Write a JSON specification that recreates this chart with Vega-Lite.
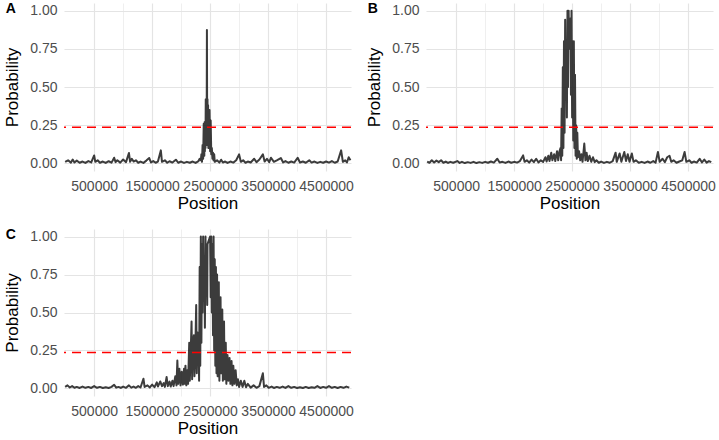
{
  "$schema": "https://vega.github.io/schema/vega-lite/v6.json",
  "background": "white",
  "padding": {"left": 3, "top": 2, "right": 2, "bottom": 0},
  "columns": 2,
  "spacing": {"row": 17, "column": 11},
  "config": {
    "font": "Liberation Sans",
    "view": {"stroke": null},
    "axis": {
      "domain": false,
      "ticks": false,
      "labelFont": "Liberation Sans",
      "titleFont": "Liberation Sans",
      "labelFontSize": 14,
      "labelColor": "#4d4d4d",
      "titleFontSize": 17,
      "titleFontWeight": "normal",
      "titleColor": "#000000",
      "gridColor": "#e4e4e4",
      "labelOverlap": false,
      "labelFlush": false
    },
    "axisX": {"labelPadding": 8, "titlePadding": 2},
    "axisY": {"labelPadding": 7, "titlePadding": 8},
    "title": {"fontSize": 14, "fontWeight": "bold", "color": "#000000", "anchor": "start", "frame": "bounds", "baseline": "alphabetic", "offset": -13, "dx": 2, "font": "Liberation Sans"}
  },
  "datasets": {
    "A": [
      {"position": 0, "probability": 0.01},
      {"position": 50000, "probability": 0.02},
      {"position": 100000, "probability": 0.005},
      {"position": 130000, "probability": 0.025},
      {"position": 160000, "probability": 0.006},
      {"position": 200000, "probability": 0.018},
      {"position": 250000, "probability": 0.004},
      {"position": 300000, "probability": 0.012},
      {"position": 350000, "probability": 0.003},
      {"position": 400000, "probability": 0.015},
      {"position": 450000, "probability": 0.006},
      {"position": 500000, "probability": 0.052},
      {"position": 520000, "probability": 0.01},
      {"position": 560000, "probability": 0.02},
      {"position": 600000, "probability": 0.004},
      {"position": 650000, "probability": 0.012},
      {"position": 700000, "probability": 0.003},
      {"position": 750000, "probability": 0.014},
      {"position": 800000, "probability": 0.005},
      {"position": 845000, "probability": 0.037},
      {"position": 870000, "probability": 0.008},
      {"position": 900000, "probability": 0.02},
      {"position": 950000, "probability": 0.005},
      {"position": 1000000, "probability": 0.025},
      {"position": 1050000, "probability": 0.008},
      {"position": 1100000, "probability": 0.068},
      {"position": 1120000, "probability": 0.01},
      {"position": 1150000, "probability": 0.03},
      {"position": 1180000, "probability": 0.012},
      {"position": 1220000, "probability": 0.02},
      {"position": 1260000, "probability": 0.004},
      {"position": 1300000, "probability": 0.012},
      {"position": 1350000, "probability": 0.003},
      {"position": 1400000, "probability": 0.018},
      {"position": 1450000, "probability": 0.035},
      {"position": 1480000, "probability": 0.006},
      {"position": 1520000, "probability": 0.015},
      {"position": 1560000, "probability": 0.004},
      {"position": 1600000, "probability": 0.012},
      {"position": 1650000, "probability": 0.085},
      {"position": 1670000, "probability": 0.01},
      {"position": 1720000, "probability": 0.02},
      {"position": 1760000, "probability": 0.004},
      {"position": 1800000, "probability": 0.014},
      {"position": 1850000, "probability": 0.005},
      {"position": 1910000, "probability": 0.024},
      {"position": 1950000, "probability": 0.004},
      {"position": 2000000, "probability": 0.012},
      {"position": 2050000, "probability": 0.003},
      {"position": 2100000, "probability": 0.01},
      {"position": 2150000, "probability": 0.004},
      {"position": 2200000, "probability": 0.012},
      {"position": 2250000, "probability": 0.003},
      {"position": 2300000, "probability": 0.015},
      {"position": 2320000, "probability": 0.03},
      {"position": 2340000, "probability": 0.02},
      {"position": 2350000, "probability": 0.06},
      {"position": 2360000, "probability": 0.01},
      {"position": 2370000, "probability": 0.12},
      {"position": 2380000, "probability": 0.03},
      {"position": 2390000, "probability": 0.26},
      {"position": 2400000, "probability": 0.05},
      {"position": 2405000, "probability": 0.27},
      {"position": 2410000, "probability": 0.08},
      {"position": 2415000, "probability": 0.2},
      {"position": 2420000, "probability": 0.1},
      {"position": 2425000, "probability": 0.42},
      {"position": 2430000, "probability": 0.15},
      {"position": 2435000, "probability": 0.4},
      {"position": 2440000, "probability": 0.12},
      {"position": 2445000, "probability": 0.874},
      {"position": 2450000, "probability": 0.14},
      {"position": 2455000, "probability": 0.42},
      {"position": 2460000, "probability": 0.16},
      {"position": 2465000, "probability": 0.38},
      {"position": 2470000, "probability": 0.1},
      {"position": 2475000, "probability": 0.35},
      {"position": 2480000, "probability": 0.12},
      {"position": 2490000, "probability": 0.35},
      {"position": 2500000, "probability": 0.08},
      {"position": 2510000, "probability": 0.28},
      {"position": 2520000, "probability": 0.06},
      {"position": 2530000, "probability": 0.1},
      {"position": 2540000, "probability": 0.03},
      {"position": 2550000, "probability": 0.07},
      {"position": 2560000, "probability": 0.02},
      {"position": 2570000, "probability": 0.06},
      {"position": 2580000, "probability": 0.01},
      {"position": 2620000, "probability": 0.02},
      {"position": 2660000, "probability": 0.005},
      {"position": 2690000, "probability": 0.024},
      {"position": 2720000, "probability": 0.006},
      {"position": 2760000, "probability": 0.012},
      {"position": 2800000, "probability": 0.003},
      {"position": 2850000, "probability": 0.012},
      {"position": 2900000, "probability": 0.005},
      {"position": 2950000, "probability": 0.02},
      {"position": 3000000, "probability": 0.059},
      {"position": 3030000, "probability": 0.01},
      {"position": 3070000, "probability": 0.02},
      {"position": 3110000, "probability": 0.004},
      {"position": 3150000, "probability": 0.012},
      {"position": 3200000, "probability": 0.006},
      {"position": 3260000, "probability": 0.03},
      {"position": 3300000, "probability": 0.008},
      {"position": 3350000, "probability": 0.025},
      {"position": 3410000, "probability": 0.059},
      {"position": 3440000, "probability": 0.012},
      {"position": 3480000, "probability": 0.03},
      {"position": 3520000, "probability": 0.008},
      {"position": 3550000, "probability": 0.037},
      {"position": 3600000, "probability": 0.01},
      {"position": 3650000, "probability": 0.02},
      {"position": 3720000, "probability": 0.035},
      {"position": 3760000, "probability": 0.006},
      {"position": 3800000, "probability": 0.015},
      {"position": 3850000, "probability": 0.004},
      {"position": 3900000, "probability": 0.012},
      {"position": 3950000, "probability": 0.005},
      {"position": 4010000, "probability": 0.037},
      {"position": 4050000, "probability": 0.006},
      {"position": 4100000, "probability": 0.012},
      {"position": 4150000, "probability": 0.004},
      {"position": 4210000, "probability": 0.02},
      {"position": 4250000, "probability": 0.005},
      {"position": 4300000, "probability": 0.012},
      {"position": 4350000, "probability": 0.003},
      {"position": 4400000, "probability": 0.01},
      {"position": 4450000, "probability": 0.004},
      {"position": 4500000, "probability": 0.012},
      {"position": 4550000, "probability": 0.005},
      {"position": 4600000, "probability": 0.015},
      {"position": 4650000, "probability": 0.004},
      {"position": 4700000, "probability": 0.012},
      {"position": 4760000, "probability": 0.085},
      {"position": 4790000, "probability": 0.01},
      {"position": 4830000, "probability": 0.02},
      {"position": 4860000, "probability": 0.006},
      {"position": 4890000, "probability": 0.04},
      {"position": 4920000, "probability": 0.02}
    ],
    "B": [
      {"position": 0, "probability": 0.012},
      {"position": 40000, "probability": 0.004},
      {"position": 80000, "probability": 0.02},
      {"position": 120000, "probability": 0.006},
      {"position": 160000, "probability": 0.018},
      {"position": 200000, "probability": 0.008},
      {"position": 240000, "probability": 0.02},
      {"position": 280000, "probability": 0.004},
      {"position": 320000, "probability": 0.012},
      {"position": 360000, "probability": 0.003},
      {"position": 400000, "probability": 0.01},
      {"position": 450000, "probability": 0.004},
      {"position": 520000, "probability": 0.015},
      {"position": 560000, "probability": 0.003},
      {"position": 600000, "probability": 0.01},
      {"position": 650000, "probability": 0.002},
      {"position": 700000, "probability": 0.008},
      {"position": 750000, "probability": 0.003},
      {"position": 800000, "probability": 0.01},
      {"position": 850000, "probability": 0.002},
      {"position": 900000, "probability": 0.008},
      {"position": 950000, "probability": 0.003},
      {"position": 1000000, "probability": 0.01},
      {"position": 1050000, "probability": 0.004},
      {"position": 1100000, "probability": 0.012},
      {"position": 1150000, "probability": 0.005},
      {"position": 1210000, "probability": 0.03},
      {"position": 1250000, "probability": 0.006},
      {"position": 1300000, "probability": 0.01},
      {"position": 1350000, "probability": 0.003},
      {"position": 1400000, "probability": 0.012},
      {"position": 1450000, "probability": 0.004},
      {"position": 1500000, "probability": 0.01},
      {"position": 1550000, "probability": 0.005},
      {"position": 1600000, "probability": 0.015},
      {"position": 1655000, "probability": 0.052},
      {"position": 1680000, "probability": 0.01},
      {"position": 1720000, "probability": 0.02},
      {"position": 1760000, "probability": 0.005},
      {"position": 1800000, "probability": 0.025},
      {"position": 1840000, "probability": 0.008},
      {"position": 1880000, "probability": 0.03},
      {"position": 1920000, "probability": 0.006},
      {"position": 1960000, "probability": 0.02},
      {"position": 2000000, "probability": 0.01},
      {"position": 2040000, "probability": 0.04},
      {"position": 2060000, "probability": 0.012},
      {"position": 2090000, "probability": 0.05},
      {"position": 2110000, "probability": 0.015},
      {"position": 2140000, "probability": 0.07},
      {"position": 2160000, "probability": 0.02},
      {"position": 2190000, "probability": 0.06},
      {"position": 2210000, "probability": 0.015},
      {"position": 2240000, "probability": 0.08},
      {"position": 2260000, "probability": 0.02},
      {"position": 2280000, "probability": 0.075},
      {"position": 2300000, "probability": 0.1},
      {"position": 2310000, "probability": 0.02},
      {"position": 2320000, "probability": 0.36},
      {"position": 2330000, "probability": 0.05},
      {"position": 2340000, "probability": 0.63},
      {"position": 2350000, "probability": 0.1},
      {"position": 2360000, "probability": 0.8},
      {"position": 2370000, "probability": 0.2},
      {"position": 2380000, "probability": 0.94},
      {"position": 2390000, "probability": 0.45},
      {"position": 2400000, "probability": 0.8},
      {"position": 2410000, "probability": 0.3},
      {"position": 2420000, "probability": 1.0},
      {"position": 2430000, "probability": 0.5},
      {"position": 2440000, "probability": 1.0},
      {"position": 2450000, "probability": 0.75},
      {"position": 2475000, "probability": 0.95},
      {"position": 2480000, "probability": 0.45},
      {"position": 2490000, "probability": 1.0},
      {"position": 2500000, "probability": 0.3},
      {"position": 2510000, "probability": 0.8},
      {"position": 2520000, "probability": 0.15},
      {"position": 2530000, "probability": 0.8},
      {"position": 2540000, "probability": 0.1},
      {"position": 2550000, "probability": 0.58},
      {"position": 2560000, "probability": 0.05},
      {"position": 2570000, "probability": 0.25},
      {"position": 2580000, "probability": 0.03},
      {"position": 2590000, "probability": 0.2},
      {"position": 2600000, "probability": 0.04},
      {"position": 2620000, "probability": 0.08},
      {"position": 2640000, "probability": 0.02},
      {"position": 2660000, "probability": 0.06},
      {"position": 2680000, "probability": 0.01},
      {"position": 2710000, "probability": 0.13},
      {"position": 2730000, "probability": 0.02},
      {"position": 2750000, "probability": 0.07},
      {"position": 2770000, "probability": 0.015},
      {"position": 2800000, "probability": 0.05},
      {"position": 2830000, "probability": 0.01},
      {"position": 2860000, "probability": 0.04},
      {"position": 2890000, "probability": 0.008},
      {"position": 2920000, "probability": 0.02},
      {"position": 2960000, "probability": 0.004},
      {"position": 3000000, "probability": 0.012},
      {"position": 3050000, "probability": 0.003},
      {"position": 3100000, "probability": 0.01},
      {"position": 3150000, "probability": 0.004},
      {"position": 3200000, "probability": 0.015},
      {"position": 3250000, "probability": 0.07},
      {"position": 3270000, "probability": 0.01},
      {"position": 3320000, "probability": 0.065},
      {"position": 3350000, "probability": 0.01},
      {"position": 3400000, "probability": 0.075},
      {"position": 3430000, "probability": 0.015},
      {"position": 3460000, "probability": 0.06},
      {"position": 3490000, "probability": 0.01},
      {"position": 3530000, "probability": 0.065},
      {"position": 3560000, "probability": 0.01},
      {"position": 3600000, "probability": 0.02},
      {"position": 3650000, "probability": 0.004},
      {"position": 3700000, "probability": 0.01},
      {"position": 3750000, "probability": 0.003},
      {"position": 3800000, "probability": 0.012},
      {"position": 3850000, "probability": 0.004},
      {"position": 3900000, "probability": 0.015},
      {"position": 3940000, "probability": 0.005},
      {"position": 3980000, "probability": 0.075},
      {"position": 4010000, "probability": 0.01},
      {"position": 4060000, "probability": 0.03},
      {"position": 4100000, "probability": 0.008},
      {"position": 4140000, "probability": 0.04},
      {"position": 4180000, "probability": 0.05},
      {"position": 4210000, "probability": 0.01},
      {"position": 4250000, "probability": 0.02},
      {"position": 4300000, "probability": 0.004},
      {"position": 4350000, "probability": 0.012},
      {"position": 4400000, "probability": 0.02},
      {"position": 4440000, "probability": 0.075},
      {"position": 4470000, "probability": 0.01},
      {"position": 4520000, "probability": 0.02},
      {"position": 4560000, "probability": 0.004},
      {"position": 4600000, "probability": 0.012},
      {"position": 4650000, "probability": 0.005},
      {"position": 4700000, "probability": 0.03},
      {"position": 4740000, "probability": 0.006},
      {"position": 4780000, "probability": 0.025},
      {"position": 4820000, "probability": 0.005},
      {"position": 4860000, "probability": 0.015},
      {"position": 4900000, "probability": 0.008}
    ],
    "C": [
      {"position": 0, "probability": 0.01},
      {"position": 40000, "probability": 0.02},
      {"position": 80000, "probability": 0.006},
      {"position": 120000, "probability": 0.015},
      {"position": 160000, "probability": 0.004},
      {"position": 200000, "probability": 0.01},
      {"position": 250000, "probability": 0.003},
      {"position": 300000, "probability": 0.012},
      {"position": 350000, "probability": 0.004},
      {"position": 400000, "probability": 0.01},
      {"position": 450000, "probability": 0.003},
      {"position": 500000, "probability": 0.015},
      {"position": 550000, "probability": 0.004},
      {"position": 600000, "probability": 0.01},
      {"position": 650000, "probability": 0.003},
      {"position": 700000, "probability": 0.008},
      {"position": 750000, "probability": 0.003},
      {"position": 800000, "probability": 0.01},
      {"position": 845000, "probability": 0.024},
      {"position": 880000, "probability": 0.005},
      {"position": 920000, "probability": 0.01},
      {"position": 960000, "probability": 0.003},
      {"position": 1000000, "probability": 0.012},
      {"position": 1050000, "probability": 0.004},
      {"position": 1100000, "probability": 0.02},
      {"position": 1140000, "probability": 0.005},
      {"position": 1180000, "probability": 0.012},
      {"position": 1220000, "probability": 0.004},
      {"position": 1260000, "probability": 0.015},
      {"position": 1300000, "probability": 0.006},
      {"position": 1350000, "probability": 0.064},
      {"position": 1370000, "probability": 0.01},
      {"position": 1420000, "probability": 0.02},
      {"position": 1460000, "probability": 0.006},
      {"position": 1500000, "probability": 0.025},
      {"position": 1540000, "probability": 0.008},
      {"position": 1580000, "probability": 0.04},
      {"position": 1600000, "probability": 0.012},
      {"position": 1640000, "probability": 0.046},
      {"position": 1670000, "probability": 0.015},
      {"position": 1700000, "probability": 0.035},
      {"position": 1720000, "probability": 0.01},
      {"position": 1750000, "probability": 0.075},
      {"position": 1770000, "probability": 0.015},
      {"position": 1800000, "probability": 0.045},
      {"position": 1820000, "probability": 0.012},
      {"position": 1850000, "probability": 0.05},
      {"position": 1870000, "probability": 0.015},
      {"position": 1900000, "probability": 0.08},
      {"position": 1920000, "probability": 0.02},
      {"position": 1935000, "probability": 0.184},
      {"position": 1950000, "probability": 0.03},
      {"position": 1970000, "probability": 0.13},
      {"position": 1990000, "probability": 0.02},
      {"position": 2010000, "probability": 0.11},
      {"position": 2030000, "probability": 0.025},
      {"position": 2050000, "probability": 0.13},
      {"position": 2060000, "probability": 0.03},
      {"position": 2075000, "probability": 0.15},
      {"position": 2090000, "probability": 0.02},
      {"position": 2105000, "probability": 0.12},
      {"position": 2120000, "probability": 0.03},
      {"position": 2140000, "probability": 0.3},
      {"position": 2150000, "probability": 0.05},
      {"position": 2165000, "probability": 0.23},
      {"position": 2180000, "probability": 0.44},
      {"position": 2190000, "probability": 0.06},
      {"position": 2205000, "probability": 0.3},
      {"position": 2220000, "probability": 0.35},
      {"position": 2230000, "probability": 0.08},
      {"position": 2245000, "probability": 0.25},
      {"position": 2260000, "probability": 0.55},
      {"position": 2270000, "probability": 0.1},
      {"position": 2280000, "probability": 0.37},
      {"position": 2290000, "probability": 0.2},
      {"position": 2300000, "probability": 0.33},
      {"position": 2310000, "probability": 0.05},
      {"position": 2320000, "probability": 0.8},
      {"position": 2330000, "probability": 0.15},
      {"position": 2340000, "probability": 1.0},
      {"position": 2350000, "probability": 0.3},
      {"position": 2360000, "probability": 0.95},
      {"position": 2370000, "probability": 0.5},
      {"position": 2380000, "probability": 1.0},
      {"position": 2390000, "probability": 0.6},
      {"position": 2400000, "probability": 0.85},
      {"position": 2410000, "probability": 0.4},
      {"position": 2420000, "probability": 1.0},
      {"position": 2430000, "probability": 0.7},
      {"position": 2440000, "probability": 0.85},
      {"position": 2450000, "probability": 0.55},
      {"position": 2455000, "probability": 0.95},
      {"position": 2500000, "probability": 1.0},
      {"position": 2510000, "probability": 0.6},
      {"position": 2520000, "probability": 1.0},
      {"position": 2530000, "probability": 0.5},
      {"position": 2540000, "probability": 0.95},
      {"position": 2550000, "probability": 0.35},
      {"position": 2560000, "probability": 1.0},
      {"position": 2570000, "probability": 0.25},
      {"position": 2580000, "probability": 0.85},
      {"position": 2590000, "probability": 0.15},
      {"position": 2600000, "probability": 0.8},
      {"position": 2610000, "probability": 0.1},
      {"position": 2620000, "probability": 0.75},
      {"position": 2630000, "probability": 0.08},
      {"position": 2650000, "probability": 0.7},
      {"position": 2660000, "probability": 0.05},
      {"position": 2680000, "probability": 0.6},
      {"position": 2690000, "probability": 0.1},
      {"position": 2710000, "probability": 0.52},
      {"position": 2720000, "probability": 0.05},
      {"position": 2740000, "probability": 0.44},
      {"position": 2750000, "probability": 0.06},
      {"position": 2770000, "probability": 0.3},
      {"position": 2780000, "probability": 0.03},
      {"position": 2800000, "probability": 0.22},
      {"position": 2815000, "probability": 0.05},
      {"position": 2835000, "probability": 0.2},
      {"position": 2850000, "probability": 0.03},
      {"position": 2870000, "probability": 0.18},
      {"position": 2885000, "probability": 0.02},
      {"position": 2900000, "probability": 0.15},
      {"position": 2920000, "probability": 0.03},
      {"position": 2940000, "probability": 0.12},
      {"position": 2960000, "probability": 0.02},
      {"position": 2980000, "probability": 0.06},
      {"position": 3000000, "probability": 0.01},
      {"position": 3030000, "probability": 0.05},
      {"position": 3060000, "probability": 0.01},
      {"position": 3090000, "probability": 0.05},
      {"position": 3120000, "probability": 0.008},
      {"position": 3150000, "probability": 0.03},
      {"position": 3200000, "probability": 0.005},
      {"position": 3250000, "probability": 0.02},
      {"position": 3300000, "probability": 0.004},
      {"position": 3350000, "probability": 0.015},
      {"position": 3410000, "probability": 0.1},
      {"position": 3430000, "probability": 0.01},
      {"position": 3470000, "probability": 0.02},
      {"position": 3510000, "probability": 0.004},
      {"position": 3560000, "probability": 0.012},
      {"position": 3600000, "probability": 0.003},
      {"position": 3650000, "probability": 0.01},
      {"position": 3700000, "probability": 0.004},
      {"position": 3750000, "probability": 0.012},
      {"position": 3800000, "probability": 0.003},
      {"position": 3850000, "probability": 0.015},
      {"position": 3900000, "probability": 0.004},
      {"position": 3950000, "probability": 0.01},
      {"position": 4000000, "probability": 0.003},
      {"position": 4050000, "probability": 0.008},
      {"position": 4100000, "probability": 0.003},
      {"position": 4150000, "probability": 0.01},
      {"position": 4200000, "probability": 0.003},
      {"position": 4250000, "probability": 0.008},
      {"position": 4300000, "probability": 0.004},
      {"position": 4350000, "probability": 0.015},
      {"position": 4400000, "probability": 0.003},
      {"position": 4450000, "probability": 0.01},
      {"position": 4500000, "probability": 0.004},
      {"position": 4550000, "probability": 0.015},
      {"position": 4600000, "probability": 0.004},
      {"position": 4650000, "probability": 0.01},
      {"position": 4700000, "probability": 0.003},
      {"position": 4750000, "probability": 0.01},
      {"position": 4800000, "probability": 0.004},
      {"position": 4850000, "probability": 0.012},
      {"position": 4900000, "probability": 0.005}
    ],
    "threshold": [{"threshold": 0.236}]
  },
  "concat": [
    {
      "title": {"text": "A"},
      "width": 287,
      "height": 168,
      "layer": [
        {
          "data": {"name": "A"},
          "mark": {"type": "line", "color": "#1a1a1a", "strokeWidth": 2, "opacity": 0.85, "strokeJoin": "round"},
          "encoding": {
            "x": {"field": "position", "type": "quantitative", "title": "Position",
              "scale": {"domain": [-20000, 4930000], "nice": false, "zero": false},
              "axis": {"values": [500000, 1000000, 1500000, 2000000, 2500000, 3000000, 3500000, 4000000, 4500000], "format": "d",
                "labelExpr": "(datum.value % 1000000) === 500000 ? datum.label : ''",
                "gridWidth": {"condition": {"test": "(datum.value % 1000000) === 500000", "value": 1.2}, "value": 0.6}}},
            "y": {"field": "probability", "type": "quantitative", "title": "Probability",
              "scale": {"domain": [-0.05, 1.05], "nice": false, "zero": false},
              "axis": {"values": [0, 0.125, 0.25, 0.375, 0.5, 0.625, 0.75, 0.875, 1], "format": ".2f",
                "labelExpr": "round(datum.value * 8) % 2 === 0 ? datum.label : ''",
                "gridWidth": {"condition": {"test": "round(datum.value * 8) % 2 === 0", "value": 1.2}, "value": 0.6}}}
          }
        },
        {
          "data": {"name": "threshold"},
          "mark": {"type": "rule", "color": "#ff0000", "strokeWidth": 1.5, "strokeDash": [9, 6]},
          "encoding": {"y": {"field": "threshold", "type": "quantitative", "title": "Probability"}}
        }
      ]
    },
    {
      "title": {"text": "B"},
      "width": 287,
      "height": 168,
      "layer": [
        {
          "data": {"name": "B"},
          "mark": {"type": "line", "color": "#1a1a1a", "strokeWidth": 2, "opacity": 0.85, "strokeJoin": "round"},
          "encoding": {
            "x": {"field": "position", "type": "quantitative", "title": "Position",
              "scale": {"domain": [-20000, 4930000], "nice": false, "zero": false},
              "axis": {"values": [500000, 1000000, 1500000, 2000000, 2500000, 3000000, 3500000, 4000000, 4500000], "format": "d",
                "labelExpr": "(datum.value % 1000000) === 500000 ? datum.label : ''",
                "gridWidth": {"condition": {"test": "(datum.value % 1000000) === 500000", "value": 1.2}, "value": 0.6}}},
            "y": {"field": "probability", "type": "quantitative", "title": "Probability",
              "scale": {"domain": [-0.05, 1.05], "nice": false, "zero": false},
              "axis": {"values": [0, 0.125, 0.25, 0.375, 0.5, 0.625, 0.75, 0.875, 1], "format": ".2f",
                "labelExpr": "round(datum.value * 8) % 2 === 0 ? datum.label : ''",
                "gridWidth": {"condition": {"test": "round(datum.value * 8) % 2 === 0", "value": 1.2}, "value": 0.6}}}
          }
        },
        {
          "data": {"name": "threshold"},
          "mark": {"type": "rule", "color": "#ff0000", "strokeWidth": 1.5, "strokeDash": [9, 6]},
          "encoding": {"y": {"field": "threshold", "type": "quantitative", "title": "Probability"}}
        }
      ]
    },
    {
      "title": {"text": "C"},
      "width": 287,
      "height": 167,
      "layer": [
        {
          "data": {"name": "C"},
          "mark": {"type": "line", "color": "#1a1a1a", "strokeWidth": 2, "opacity": 0.85, "strokeJoin": "round"},
          "encoding": {
            "x": {"field": "position", "type": "quantitative", "title": "Position",
              "scale": {"domain": [-20000, 4930000], "nice": false, "zero": false},
              "axis": {"values": [500000, 1000000, 1500000, 2000000, 2500000, 3000000, 3500000, 4000000, 4500000], "format": "d",
                "labelExpr": "(datum.value % 1000000) === 500000 ? datum.label : ''",
                "gridWidth": {"condition": {"test": "(datum.value % 1000000) === 500000", "value": 1.2}, "value": 0.6}}},
            "y": {"field": "probability", "type": "quantitative", "title": "Probability",
              "scale": {"domain": [-0.05, 1.05], "nice": false, "zero": false},
              "axis": {"values": [0, 0.125, 0.25, 0.375, 0.5, 0.625, 0.75, 0.875, 1], "format": ".2f",
                "labelExpr": "round(datum.value * 8) % 2 === 0 ? datum.label : ''",
                "gridWidth": {"condition": {"test": "round(datum.value * 8) % 2 === 0", "value": 1.2}, "value": 0.6}}}
          }
        },
        {
          "data": {"name": "threshold"},
          "mark": {"type": "rule", "color": "#ff0000", "strokeWidth": 1.5, "strokeDash": [9, 6]},
          "encoding": {"y": {"field": "threshold", "type": "quantitative", "title": "Probability"}}
        }
      ]
    }
  ]
}
